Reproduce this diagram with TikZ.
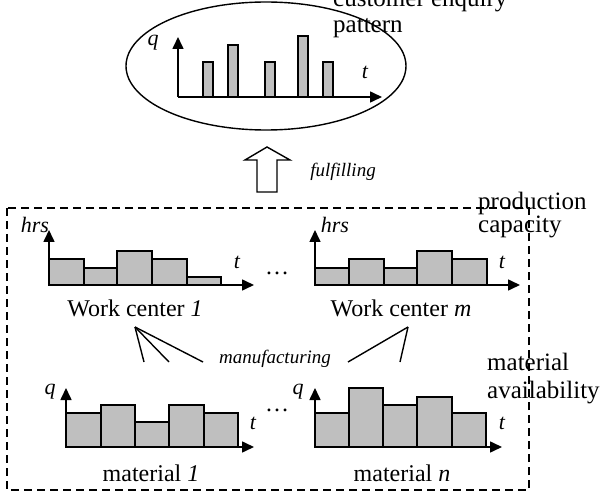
\documentclass[tikz,border=0pt]{standalone}
\usepackage{fontspec}
\setmainfont{Liberation Serif}
\usetikzlibrary{arrows.meta}
\def\labsize{\fontsize{24}{26}\selectfont}
\def\notesize#1{\fontsize{25}{#1}\selectfont}

\tikzset{
  axis/.style={line width=1.6pt, -{Triangle[length=12pt,width=11pt]}},
  barbox/.style={draw, line width=1.3pt, fill=black!25},
  lab/.style={inner sep=0pt, font=\labsize},
  axlab/.style={inner sep=0pt, font=\fontsize{22}{24}\selectfont\itshape},
  verb/.style={inner sep=0pt, font=\fontsize{19}{20}\selectfont\itshape},
  note/.style={inner sep=0pt, align=left, anchor=base west},
  fan/.style={line width=1.4pt},
}

\begin{document}
\begin{tikzpicture}[x=1pt,y=-1pt]
  \useasboundingbox (0,0) rectangle (603,492);

  %%%%% enquiry pattern %%%%%
  \draw[line width=1.4pt] (266,66) ellipse [x radius=140pt, y radius=64pt];
  \foreach \a/\h in {203/62, 228/45, 265/62, 298/36, 323/62}
    \draw[barbox] (\a,97) rectangle ({\a+10},\h);
  \draw[axis] (178,97) -- (178,37);
  \draw[axis] (178,97) -- (382,97);
  \node[axlab] (q0) at (153,43) {q};
  \node[axlab] (t0) at (365,72) {t};
  \node[note, font=\notesize{26}] (enquiry) at (333,33) {customer enquiry\\pattern};

  %%%%% fulfilling %%%%%
  \draw[line width=1.4pt] (267,147) -- (290,160) -- (277,160) -- (277,192)
    -- (257,192) -- (257,160) -- (245,160) -- cycle;
  \node[verb] (fulfil) at (343,172) {fulfilling};

  %%%%% production frame %%%%%
  \draw[line width=1.4pt, dash pattern=on 8pt off 5pt] (7,208) rectangle (529,490);
  \node[note, font=\notesize{23}] (capacity) at (478,233) {production\\capacity};
  \node[note, font=\notesize{28}] (avail) at (487,398) {material\\availability};

  %%%%% work centers %%%%%
  \foreach \a/\b/\h in {49/84/259, 84/117/268, 117/152/251, 152/187/259, 187/221/277}
    \draw[barbox] (\a,285) rectangle (\b,\h);
  \draw[axis] (49,285) -- (49,230);
  \draw[axis] (49,285) -- (254,285);
  \node[axlab] (hrs1) at (35,225) {hrs};
  \node[axlab] (t1) at (237,262) {t};
  \node[lab] (wc1) at (135,308) {Work center \textit{1}};

  \node[lab] (dots1) at (277,273) {\dots};

  \foreach \a/\b/\h in {315/349/268, 349/384/259, 384/417/268, 417/452/251, 452/487/259}
    \draw[barbox] (\a,285) rectangle (\b,\h);
  \draw[axis] (315,285) -- (315,230);
  \draw[axis] (315,285) -- (520,285);
  \node[axlab] (hrs2) at (335,225) {hrs};
  \node[axlab] (t2) at (502,262) {t};
  \node[lab] (wcm) at (401,308) {Work center \textit{m}};

  %%%%% manufacturing %%%%%
  \coordinate (in1) at (135,327);
  \coordinate (in2) at (408,327);
  \coordinate (f1) at (144,362);
  \coordinate (f2) at (169,362);
  \coordinate (f3) at (203,362);
  \coordinate (f4) at (348,362);
  \coordinate (f5) at (400,362);
  \draw[fan] (f1) -- (in1);
  \draw[fan] (f2) -- (in1);
  \draw[fan] (f3) -- (in1);
  \draw[fan] (f4) -- (in2);
  \draw[fan] (f5) -- (in2);
  \node[verb] (manuf) at (275,359) {manufacturing};

  %%%%% materials %%%%%
  \foreach \a/\b/\h in {66/101/413, 101/135/405, 135/169/422, 169/204/405, 204/238/413}
    \draw[barbox] (\a,447) rectangle (\b,\h);
  \draw[axis] (66,447) -- (66,388);
  \draw[axis] (66,447) -- (254,447);
  \node[axlab] (q1) at (50,392) {q};
  \node[axlab] (t3) at (253,423) {t};
  \node[lab] (mat1) at (151,473) {material \textit{1}};

  \node[lab] (dots2) at (277,410) {\dots};

  \foreach \a/\b/\h in {315/349/413, 349/383/388, 383/417/405, 417/452/397, 452/486/413}
    \draw[barbox] (\a,447) rectangle (\b,\h);
  \draw[axis] (315,447) -- (315,388);
  \draw[axis] (315,447) -- (502,447);
  \node[axlab] (q2) at (298,392) {q};
  \node[axlab] (t4) at (502,423) {t};
  \node[lab] (matn) at (402,473) {material \textit{n}};
\end{tikzpicture}
\end{document}
